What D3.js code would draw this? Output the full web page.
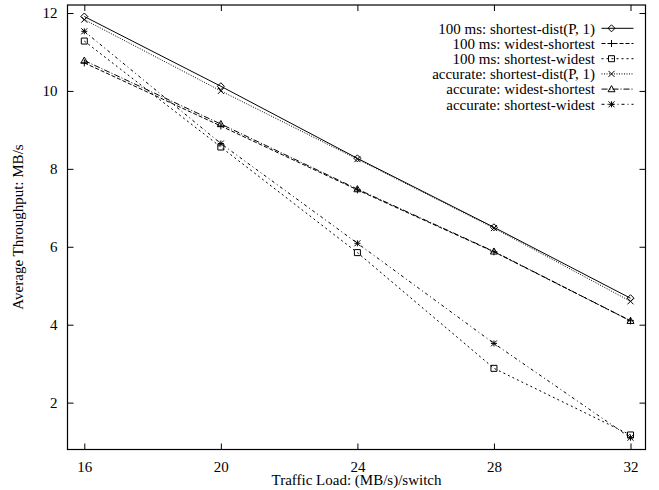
<!DOCTYPE html>
<html>
<head>
<meta charset="utf-8">
<script src="https://cdn.jsdelivr.net/npm/d3@7"></script>
<style>
  html, body { margin: 0; padding: 0; background: #fff; }
  svg { display: block; }
  text { font-family: "Liberation Serif", "Times New Roman", serif; fill: #000; }
</style>
</head>
<body>
<svg id="chart" width="659" height="490"></svg>
<script>
// Traffic load (MB/s per switch) on the x axis
const loads = [16, 20, 24, 28, 32];

// Average throughput (MB/s) for each routing scheme
const s100Dist     = [11.91, 10.12, 8.27, 6.50, 4.68];
const s100Widest   = [10.72, 9.10, 7.46, 5.87, 4.10];
const s100Shortest = [11.28, 8.56, 5.85, 2.88, 1.17];
const accDist      = [11.83, 10.00, 8.25, 6.48, 4.60];
const accWidest    = [10.78, 9.15, 7.48, 5.88, 4.10];
const accShortest  = [11.53, 8.65, 6.09, 3.52, 1.10];

const seriesNames = [
  "100 ms: shortest-dist(P, 1)",
  "100 ms: widest-shortest",
  "100 ms: shortest-widest",
  "accurate: shortest-dist(P, 1)",
  "accurate: widest-shortest",
  "accurate: shortest-widest"
];

const xTicks = [16, 20, 24, 28, 32];
const yTicks = [2, 4, 6, 8, 10, 12];

const seriesValues = [s100Dist, s100Widest, s100Shortest, accDist, accWidest, accShortest];
const dashes = [null, "4,2", "2,3", "1,1.5", "6,2,1,2", "3,3,1,3"];
const markers = ["diamond", "plus", "square", "cross", "triangle", "star"];

const FONT = "15px";
const svg = d3.select("#chart");
const frame = { left: 67.5, right: 645.5, top: 5, bottom: 449.5 };

const x = d3.scaleLinear().domain([16, 32]).range([84.3, 630.5]);
const y = d3.scaleLinear().domain([4, 12]).range([324.7, 13]);

// Marker glyphs in gnuplot style
function markerPath(type, cx, cy) {
  const p = d3.path();
  if (type === "diamond") {
    const r = 3.5;
    p.moveTo(cx, cy - r); p.lineTo(cx + r, cy); p.lineTo(cx, cy + r); p.lineTo(cx - r, cy); p.closePath();
  } else if (type === "plus") {
    const r = 3.5;
    p.moveTo(cx - r, cy); p.lineTo(cx + r, cy); p.moveTo(cx, cy - r); p.lineTo(cx, cy + r);
  } else if (type === "square") {
    const r = 3;
    p.rect(cx - r, cy - r, 2 * r, 2 * r);
  } else if (type === "cross") {
    const r = 3;
    p.moveTo(cx - r, cy - r); p.lineTo(cx + r, cy + r); p.moveTo(cx - r, cy + r); p.lineTo(cx + r, cy - r);
  } else if (type === "triangle") {
    const r = 3.5;
    p.moveTo(cx, cy - r); p.lineTo(cx + r, cy + r * 0.75); p.lineTo(cx - r, cy + r * 0.75); p.closePath();
  } else if (type === "star") {
    const r = 3;
    p.moveTo(cx - r, cy); p.lineTo(cx + r, cy); p.moveTo(cx, cy - r); p.lineTo(cx, cy + r);
    p.moveTo(cx - r, cy - r); p.lineTo(cx + r, cy + r); p.moveTo(cx - r, cy + r); p.lineTo(cx + r, cy - r);
  }
  return p.toString();
}

// Axes with inward ticks, mirrored on top and right
const ticksFmt = d3.format("d");
const gLeft = svg.append("g").attr("transform", `translate(${frame.left},0)`)
  .call(d3.axisLeft(y).tickValues(yTicks).tickFormat(ticksFmt).tickSizeInner(-6).tickSizeOuter(0).tickPadding(10));
const gRight = svg.append("g").attr("transform", `translate(${frame.right},0)`)
  .call(d3.axisRight(y).tickValues(yTicks).tickFormat("").tickSizeInner(-6).tickSizeOuter(0));
const gBottom = svg.append("g").attr("transform", `translate(0,${frame.bottom})`)
  .call(d3.axisBottom(x).tickValues(xTicks).tickFormat(ticksFmt).tickSizeInner(-6).tickSizeOuter(0).tickPadding(12));
const gTop = svg.append("g").attr("transform", `translate(0,${frame.top})`)
  .call(d3.axisTop(x).tickValues(xTicks).tickFormat("").tickSizeInner(-6).tickSizeOuter(0));

[gLeft, gRight, gBottom, gTop].forEach(g => {
  g.select(".domain").remove();
  g.selectAll(".tick line").attr("stroke", "#000").attr("stroke-width", 1);
  g.selectAll(".tick text").style("font-family", '"Liberation Serif", serif').style("font-size", FONT).attr("fill", "#000");
});

// Plot frame
svg.append("rect")
  .attr("x", frame.left).attr("y", frame.top)
  .attr("width", frame.right - frame.left).attr("height", frame.bottom - frame.top)
  .attr("fill", "none").attr("stroke", "#000").attr("stroke-width", 1.2);

// Series lines and markers
const line = d3.line().x(d => x(d[0])).y(d => y(d[1]));
seriesValues.forEach((vals, i) => {
  const pts = loads.map((l, j) => [l, vals[j]]);
  svg.append("path")
    .attr("d", line(pts))
    .attr("fill", "none").attr("stroke", "#000").attr("stroke-width", 1)
    .attr("stroke-dasharray", dashes[i]);
  svg.append("g").selectAll("path").data(pts).join("path")
    .attr("d", d => markerPath(markers[i], x(d[0]), y(d[1])))
    .attr("fill", "none").attr("stroke", "#000").attr("stroke-width", 1);
});

// Legend
const legendTop = 28.3, legendStep = 15.2, legendTextX = 595, sx0 = 601.5, sx1 = 633.5;
seriesNames.forEach((name, i) => {
  const ly = legendTop + i * legendStep;
  svg.append("text").attr("x", legendTextX).attr("y", ly).attr("dy", "0.35em")
    .attr("text-anchor", "end").style("font-size", FONT).text(name);
  svg.append("line").attr("x1", sx0).attr("x2", sx1).attr("y1", ly).attr("y2", ly)
    .attr("stroke", "#000").attr("stroke-width", 1).attr("stroke-dasharray", dashes[i]);
  svg.append("path").attr("d", markerPath(markers[i], (sx0 + sx1) / 2 - 6, ly))
    .attr("fill", "none").attr("stroke", "#000").attr("stroke-width", 1);
});

// Axis titles
svg.append("text").attr("x", (frame.left + frame.right) / 2).attr("y", 484.5)
  .attr("text-anchor", "middle").style("font-size", FONT).text("Traffic Load: (MB/s)/switch");
svg.append("text").attr("transform", "translate(23,227) rotate(-90)")
  .attr("text-anchor", "middle").style("font-size", FONT).text("Average Throughput: MB/s");
</script>
</body>
</html>
